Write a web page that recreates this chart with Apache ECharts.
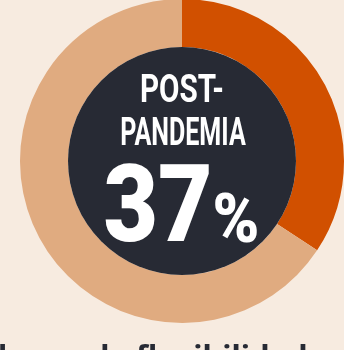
<!DOCTYPE html>
<html>
<head>
<meta charset="utf-8">
<script src="https://cdn.jsdelivr.net/npm/echarts@6/dist/echarts.min.js"></script>
<style>
html,body{margin:0;padding:0;background:#f7ebe0;}
#c{width:344px;height:350px;}
</style>
</head>
<body>
<div id="c"></div>
<script>
var categories = ["Post-pandemia", "Resto"];
var values = [34.3, 65.7];
var centerLine1 = "POST-";
var centerLine2 = "PANDEMIA";
var centerValue = "37";
var centerUnit = "%";
var footerText = "la que la flexibilidad";

var colors = ["#d15000", "#e0ab80"];
var chart = echarts.init(document.getElementById('c'), null, {renderer: 'canvas'});
chart.setOption({
  backgroundColor: '#f7ebe0',
  animation: false,
  series: [
    {
      type: 'pie',
      center: [182, 161],
      radius: [114, 162],
      startAngle: 90,
      clockwise: true,
      silent: true,
      label: {show: false},
      labelLine: {show: false},
      itemStyle: {borderWidth: 0},
      data: categories.map(function (c, i) {
        return {name: c, value: values[i], itemStyle: {color: colors[i]}};
      })
    },
    {
      type: 'pie',
      center: [182, 161],
      radius: [0, 114],
      silent: true,
      label: {show: false},
      labelLine: {show: false},
      data: [{name: 'centro', value: 1, itemStyle: {color: '#272a34'}}]
    }
  ],
  graphic: [
    {type: 'text', z: 100, x: 182, y: 92, scaleX: 0.78, style: {text: centerLine1, font: 'bold 38px Roboto', fill: '#ffffff', textAlign: 'center', textVerticalAlign: 'middle'}},
    {type: 'text', z: 100, x: 183, y: 135, scaleX: 0.66, style: {text: centerLine2, font: 'bold 38px Roboto', fill: '#ffffff', textAlign: 'center', textVerticalAlign: 'middle'}},
    {type: 'text', z: 100, x: 158, y: 214, scaleX: 0.88, style: {text: centerValue, font: '900 107px Roboto', fill: '#ffffff', textAlign: 'center', textVerticalAlign: 'middle'}},
    {type: 'text', z: 100, x: 236, y: 225, scaleX: 0.93, style: {text: centerUnit, font: '900 68px Roboto', fill: '#ffffff', textAlign: 'center', textVerticalAlign: 'middle'}},
    {type: 'text', z: 100, x: -2, y: 343, style: {text: footerText, font: 'bold 31px "Noto Sans"', fill: '#272a34', textAlign: 'left', textVerticalAlign: 'top'}}
  ]
});
</script>
</body>
</html>
